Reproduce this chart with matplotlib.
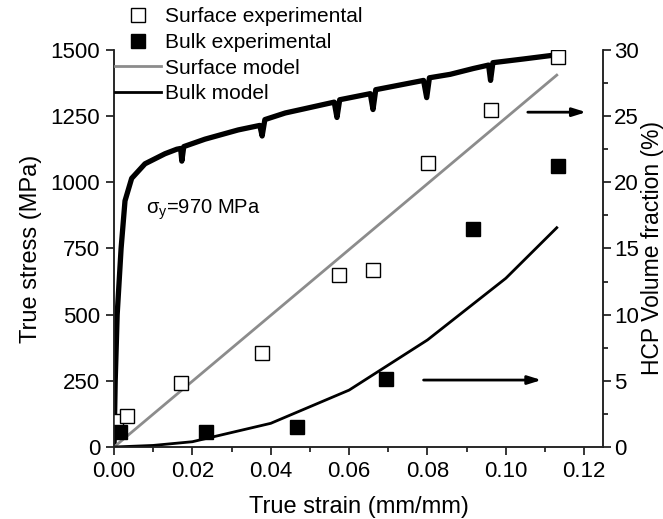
import matplotlib
matplotlib.use('Agg')
import matplotlib.pyplot as plt
from matplotlib.ticker import MultipleLocator

plt.rcParams['font.family'] = ['Liberation Sans', 'DejaVu Sans']

# stress-strain curve (left axis)
curve_strain = [0, 0.0003, 0.0008, 0.0018, 0.0028, 0.0045, 0.0079, 0.013, 0.016, 0.0170,
                0.0173, 0.0178, 0.0232, 0.0317, 0.0372, 0.0378, 0.0385, 0.0437, 0.0483,
                0.0562, 0.0569, 0.0576, 0.0654, 0.0661, 0.0668, 0.0790, 0.0798, 0.0805,
                0.0858, 0.0917, 0.0956, 0.0961, 0.0967, 0.1045, 0.112]
curve_stress = [0, 250, 500, 750, 930, 1015, 1070, 1108, 1125, 1128,
                1080, 1135, 1163, 1198, 1215, 1175, 1237, 1262, 1277,
                1303, 1245, 1312, 1335, 1275, 1350, 1385, 1320, 1395,
                1408, 1430, 1443, 1385, 1452, 1466, 1480]

# HCP volume fraction (right axis)
surf_x = [0.0005, 0.0032, 0.0172, 0.0377, 0.0573, 0.0662, 0.0802, 0.0962, 0.1133]
surf_y = [2.0, 2.37, 4.86, 7.13, 13.0, 13.38, 21.44, 25.47, 29.5]
bulk_x = [0.0015, 0.0234, 0.0466, 0.0694, 0.0916, 0.1133]
bulk_y = [1.16, 1.11, 1.49, 5.11, 16.5, 21.2]

surf_model_x = [0, 0.113]
surf_model_y = [0, 28.1]
bulk_model_x = [0, 0.01, 0.02, 0.04, 0.06, 0.08, 0.10, 0.113]
bulk_model_y = [0, 0.12, 0.4, 1.79, 4.3, 8.09, 12.75, 16.57]

# arrows: (start x, end x, y %)
arrows = [(0.1049, 0.1212, 25.3), (0.0783, 0.1098, 5.06)]

fig = plt.figure(figsize=(6.63, 5.19), dpi=100)
ax = fig.add_axes([0.172, 0.1387, 0.7375, 0.765])
ax2 = ax.twinx()

ax.plot(curve_strain, curve_stress, color='black', lw=3.8, solid_joinstyle='round')

ax2.plot(surf_model_x, surf_model_y, color='#8c8c8c', lw=2, label='Surface model')
ax2.plot(bulk_model_x, bulk_model_y, color='black', lw=2, label='Bulk model')
ax2.plot(surf_x, surf_y, 's', ms=9.5, mfc='white', mec='black', mew=1, label='Surface experimental')
ax2.plot(bulk_x, bulk_y, 's', ms=9.5, mfc='black', mec='black', label='Bulk experimental')

for x0, x1, y in arrows:
    ax2.annotate('', xy=(x1, y), xytext=(x0, y),
                 arrowprops=dict(arrowstyle='-|>,head_length=0.8,head_width=0.25', color='black', lw=2))

ax.text(0.0082, 895, r'$\mathregular{\sigma_y}$=970 MPa', fontsize=14.5, va='center')

ax.set_xlim(0, 0.1248)
ax.set_ylim(0, 1500)
ax2.set_ylim(0, 30)
ax.xaxis.set_major_locator(MultipleLocator(0.02))
ax.xaxis.set_minor_locator(MultipleLocator(0.01))
ax.yaxis.set_major_locator(MultipleLocator(250))
ax2.yaxis.set_major_locator(MultipleLocator(5))
ax2.yaxis.set_minor_locator(MultipleLocator(2.5))
ax.xaxis.set_major_formatter(matplotlib.ticker.FormatStrFormatter('%.2f'))

for a in (ax, ax2):
    a.spines['top'].set_visible(False)
    for s in a.spines.values():
        s.set_linewidth(1.1)
        s.set_color('#222222')
    a.tick_params(which='major', length=6, width=1.1, labelsize=16, direction='out', pad=4)
    a.tick_params(which='minor', length=3.5, width=1.1, direction='out')
ax2.tick_params(which='major', pad=2)

ax.set_xlabel('True strain (mm/mm)', fontsize=17, labelpad=10)
ax.set_ylabel('True stress (MPa)', fontsize=17, labelpad=6)
fig.text(652 / 663, 0.5 * (0.1387 + 0.9037), 'HCP Volume fraction (%)', fontsize=16.5,
         rotation=90, ha='center', va='center')

h, l = ax2.get_legend_handles_labels()
order = [2, 3, 0, 1]
fig.legend([h[i] for i in order], [l[i] for i in order], loc='upper left',
           bbox_to_anchor=(0.155, 1.01), frameon=False, fontsize=15,
           handlelength=2.2, handletextpad=0.2, labelspacing=0.32, borderpad=0.1)

fig.savefig('out.png', dpi=100)
